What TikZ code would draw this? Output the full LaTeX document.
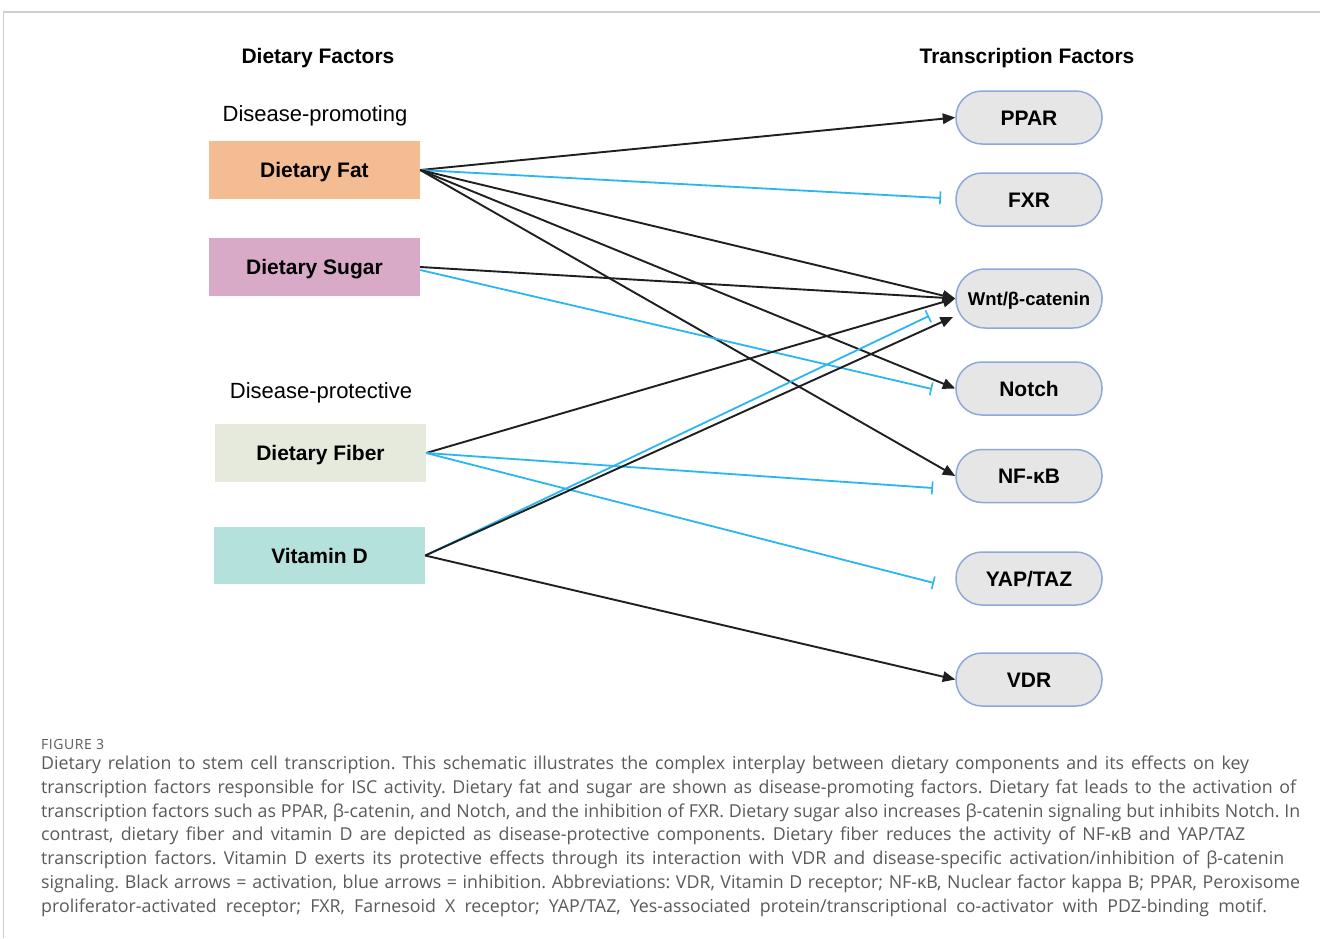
\documentclass[tikz,border=0pt]{standalone}
\usepackage{fontspec}
\setmainfont{Liberation Sans}
\newfontfamily\capfont{Open Sans}
\usetikzlibrary{arrows.meta,calc}
\definecolor{fatc}{HTML}{F4BC92}
\definecolor{sugarc}{HTML}{D8AAC8}
\definecolor{fiberc}{HTML}{E5EADC}
\definecolor{vitc}{HTML}{B5E1DC}
\definecolor{tfill}{HTML}{E6E6E6}
\definecolor{tborder}{HTML}{8EA8DA}
\definecolor{inhc}{HTML}{29B6F2}
\definecolor{capgray}{HTML}{5A5A5A}
\definecolor{framec}{HTML}{CFCFCF}
\newcommand{\capline}[2]{\makebox[#1][s]{#2}}
\frenchspacing
\begin{document}
\begin{tikzpicture}[x=1pt,y=-1pt,
  factor/.style={rectangle, minimum width=211pt, minimum height=58pt, inner sep=0pt,
    text height=15.5pt, text depth=0pt,
    font=\fontsize{21}{24}\selectfont\bfseries},
  tf/.style={rectangle, rounded corners=26pt, draw=tborder, line width=1.5pt, fill=tfill,
    minimum width=146pt, minimum height=53pt, inner sep=0pt,
    text height=15.5pt, text depth=0pt,
    font=\fontsize{21}{24}\selectfont\bfseries},
  head/.style={font=\fontsize{21}{24}\selectfont\bfseries},
  sub/.style={font=\fontsize{22}{26}\selectfont},
  act/.style={draw=black!88, line width=1.9pt, -{Triangle[length=12.5pt,width=10.5pt]}},
  inh/.style={draw=inhc, line width=1.8pt, -{Bar[width=13pt,line width=1.6pt]}},
  captext/.style={anchor=base west, inner sep=0pt, text=capgray,
    font=\capfont\fontsize{17.8}{20}\selectfont\frenchspacing},
]
\useasboundingbox (0,0) rectangle (1320,938);
\fill[white] (0,0) rectangle (1320,938);
% frame
\draw[framec, line width=2pt] (3,12) -- (1320,12);
\draw[framec, line width=1pt] (3.5,12) -- (3.5,938);

% headings
\node[head] (hdf) at (318,58) {Dietary Factors};
\node[head] (htf) at (1027,58) {Transcription Factors};
\node[sub] (hprom) at (315,116) {Disease-promoting};
\node[sub] (hprot) at (321,393) {Disease-protective};

% dietary factors
\node[factor, fill=fatc] (fat) at (314.5,170) {Dietary Fat};
\node[factor, fill=sugarc] (sugar) at (314.5,267) {Dietary Sugar};
\node[factor, fill=fiberc] (fiber) at (320.5,453) {Dietary Fiber};
\node[factor, fill=vitc, minimum height=57pt] (vitd) at (319.5,555.5) {Vitamin D};

% transcription factors
\node[tf] (ppar) at (1029,117.5) {PPAR};
\node[tf] (fxr) at (1029,199.5) {FXR};
\node[tf, minimum height=59pt, rounded corners=29pt, text height=13.5pt,
  font=\fontsize{18.5}{22}\selectfont\bfseries] (wnt) at (1029,298.5) {Wnt/β-catenin};
\node[tf] (notch) at (1029,388.5) {Notch};
\node[tf] (nfkb) at (1029,476) {NF-κB};
\node[tf] (yap) at (1029,578.5) {YAP/TAZ};
\node[tf] (vdr) at (1029,679.5) {VDR};

% free ends
\coordinate (fxrI) at (941,198);
\coordinate (notchI) at (932,389);
\coordinate (nfkbI) at (933,488);
\coordinate (yapI) at (934,583);
\coordinate (wntI) at (929,316);
\coordinate (wntV) at (953,317);

% connectors
\draw[act] (fat.east) -- (ppar.west);
\draw[inh] (fat.east) -- (fxrI);
\draw[act] (fat.east) -- (wnt.west);
\draw[act] (fat.east) -- (notch.west);
\draw[act] (fat.east) -- (nfkb.west);
\draw[act] (sugar.east) -- (wnt.west);
\draw[inh] ($(sugar.east)+(0,3)$) -- (notchI);
\draw[act] (fiber.east) -- (wnt.west);
\draw[inh] (fiber.east) -- (nfkbI);
\draw[inh] (fiber.east) -- (yapI);
\draw[inh] (vitd.east) -- (wntI);
\draw[act] (vitd.east) -- (wntV);
\draw[act] (vitd.east) -- (vdr.west);

% caption
\node[anchor=base west, inner sep=0pt, text=capgray, font=\capfont\fontsize{14}{16}\selectfont\addfontfeatures{LetterSpace=4}] (fig) at (41,749) {FIGURE 3};
\node[captext] (c1) at (41,769) {\capline{1208pt}{Dietary relation to stem cell transcription. This schematic illustrates the complex interplay between dietary components and its effects on key}};
\node[captext] (c2) at (41,793) {\capline{1255pt}{transcription factors responsible for ISC activity. Dietary fat and sugar are shown as disease-promoting factors. Dietary fat leads to the activation of}};
\node[captext] (c3) at (41,817) {\capline{1259pt}{transcription factors such as PPAR, β-catenin, and Notch, and the inhibition of FXR. Dietary sugar also increases β-catenin signaling but inhibits Notch. In}};
\node[captext] (c4) at (41,840) {\capline{1204pt}{contrast, dietary fiber and vitamin D are depicted as disease-protective components. Dietary fiber reduces the activity of NF-κB and YAP/TAZ}};
\node[captext] (c5) at (41,864) {\capline{1243pt}{transcription factors. Vitamin D exerts its protective effects through its interaction with VDR and disease-specific activation/inhibition of β-catenin}};
\node[captext] (c6) at (41,888) {\capline{1259pt}{signaling. Black arrows = activation, blue arrows = inhibition. Abbreviations: VDR, Vitamin D receptor; NF-κB, Nuclear factor kappa B; PPAR, Peroxisome}};
\node[captext] (c7) at (41,912) {\capline{1226pt}{proliferator-activated receptor; FXR, Farnesoid X receptor; YAP/TAZ, Yes-associated protein/transcriptional co-activator with PDZ-binding motif.}};
\end{tikzpicture}
\end{document}
